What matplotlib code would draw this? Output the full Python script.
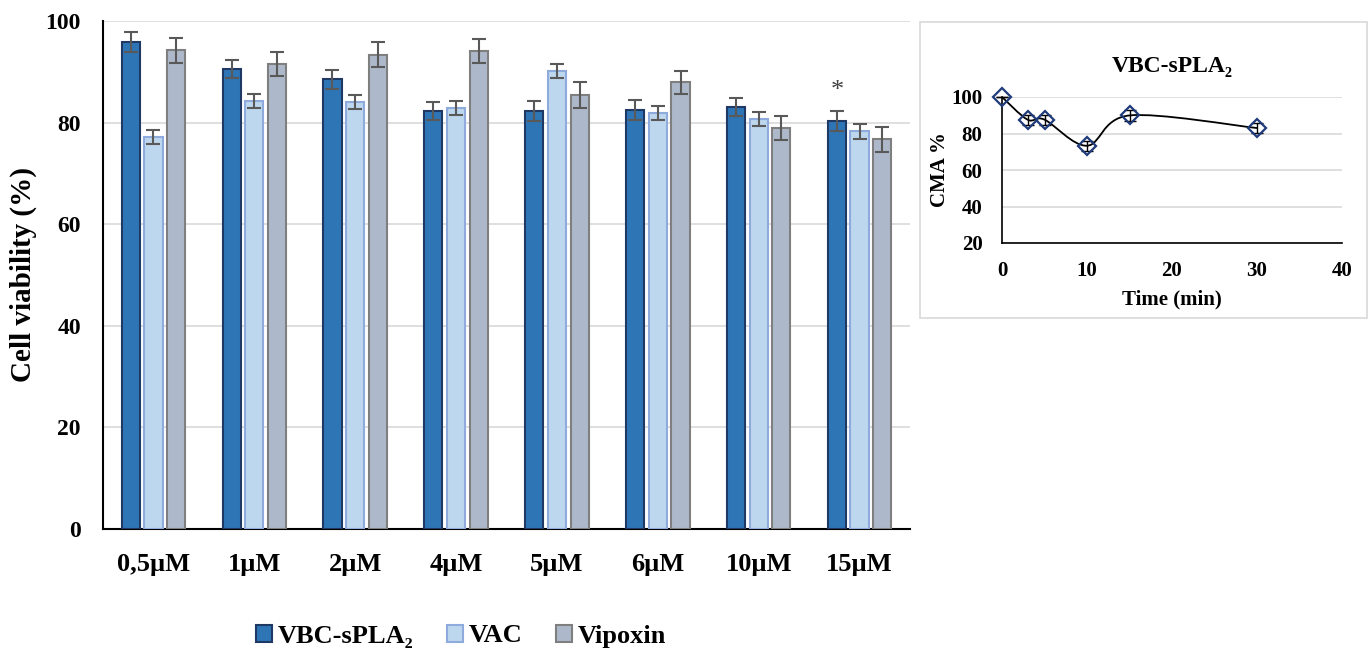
import matplotlib
matplotlib.use("Agg")
import matplotlib.pyplot as plt
import numpy as np
from matplotlib.path import Path
from matplotlib.patches import PathPatch, Rectangle

plt.rcParams["font.family"] = ["Liberation Serif", "DejaVu Serif"]
plt.rcParams["font.weight"] = "bold"

# ---- main chart data ----
concentrations = ["0,5µM", "1µM", "2µM", "4µM", "5µM", "6µM", "10µM", "15µM"]
vbc = [95.9, 90.5, 88.5, 82.3, 82.3, 82.5, 83.1, 80.3]
vbc_err = [2.0, 1.8, 1.9, 1.8, 1.9, 1.9, 1.8, 2.0]
vac = [77.2, 84.3, 84.1, 82.9, 90.2, 81.9, 80.7, 78.3]
vac_err = [1.4, 1.4, 1.4, 1.4, 1.4, 1.3, 1.3, 1.5]
vipoxin = [94.2, 91.5, 93.4, 94.1, 85.4, 87.9, 78.9, 76.7]
vipoxin_err = [2.4, 2.4, 2.4, 2.4, 2.5, 2.3, 2.4, 2.4]

# ---- inset data ----
time_min = [0, 3, 5, 10, 15, 30]
cma = [100, 87.6, 87.6, 73.3, 89.9, 83.0]
cma_err = [0, 2.8, 2.8, 2.8, 2.8, 2.8]

series = [
    ("VBC-sPLA₂", vbc, vbc_err, "#2E75B6", "#203864"),
    ("VAC", vac, vac_err, "#BDD7EE", "#8FAADC"),
    ("Vipoxin", vipoxin, vipoxin_err, "#ADB9CA", "#7F7F7F"),
]

W, H = 1369, 650
fig = plt.figure(figsize=(W / 100, H / 100), dpi=100)

# ===== main bar chart =====
ax = fig.add_axes([103 / W, (H - 529) / H, (910 - 103) / W, (529 - 21) / H])
x = np.arange(len(concentrations))
bw = 0.18
step = 0.225
for i, (name, vals, errs, fc, ec) in enumerate(series):
    ax.bar(x + (i - 1) * step, vals, width=bw, color=fc, edgecolor=ec,
           linewidth=1.5, label=name, zorder=3,
           yerr=errs, error_kw=dict(ecolor="#595959", elinewidth=1.5,
                                    capsize=5, capthick=1.5, zorder=4))

ax.text(x[-1] - step, 86.3, "*", ha="center", va="center",
        fontsize=19, fontweight="normal", color="#404040")

ax.set_xlim(-0.5, len(concentrations) - 0.5)
ax.set_ylim(0, 100)
ax.set_yticks(range(0, 101, 20))
ax.set_xticks(x)
ax.set_xticklabels(concentrations, fontsize=19, fontweight="bold")
ax.tick_params(axis="y", labelsize=17, length=0, pad=16)
ax.tick_params(axis="x", length=0, pad=17)
ax.grid(axis="y", color="#D9D9D9", linewidth=1.2, zorder=0)
ax.set_axisbelow(True)
for s in ["top", "right"]:
    ax.spines[s].set_visible(False)
ax.spines["left"].set_linewidth(1.5)
ax.spines["bottom"].set_linewidth(1.5)
ax.set_ylabel("Cell viability (%)", fontsize=21, fontweight="bold", labelpad=6)

fig.legend(loc="center", bbox_to_anchor=(461 / W, (H - 636) / H), ncol=3,
           frameon=False, fontsize=19, handlelength=0.6, handleheight=0.6,
           handletextpad=0.2, columnspacing=1.3)

# ===== inset =====
fig.patches.append(Rectangle((920 / W, (H - 318) / H), (1367 - 920) / W,
                             (318 - 22) / H, transform=fig.transFigure,
                             facecolor="white", edgecolor="#D9D9D9",
                             linewidth=1.2, zorder=-1))
ia = fig.add_axes([1002 / W, (H - 243) / H, (1342 - 1002) / W, (243 - 97) / H])
ia.set_facecolor("none")
ia.set_xlim(0, 40)
ia.set_ylim(20, 100)
ia.set_xticks(range(0, 41, 10))
ia.set_yticks(range(20, 101, 20))
ia.grid(axis="y", color="#D9D9D9", linewidth=1.2, zorder=0)
ia.set_axisbelow(True)
for s in ["top", "right"]:
    ia.spines[s].set_visible(False)
ia.spines["left"].set_linewidth(1.2)
ia.spines["bottom"].set_linewidth(1.2)
ia.tick_params(axis="y", labelsize=15, length=0, pad=14)
ia.tick_params(axis="x", labelsize=15, length=0, pad=13)
ia.set_xlabel("Time (min)", fontsize=15, fontweight="bold", labelpad=6)
ia.set_ylabel("CMA %", fontsize=15, fontweight="bold", labelpad=1)
ia.set_title("VBC-sPLA₂", fontsize=17, fontweight="bold", pad=18)

# smoothed line (Catmull-Rom style Bezier, as in spreadsheet "smoothed line")
pts = np.column_stack([time_min, cma]).astype(float)
verts = [tuple(pts[0])]
codes = [Path.MOVETO]
n = len(pts)
for k in range(n - 1):
    p0 = pts[max(k - 1, 0)]
    p1 = pts[k]
    p2 = pts[k + 1]
    p3 = pts[min(k + 2, n - 1)]
    c1 = p1 + (p2 - p0) / 6.0
    c2 = p2 - (p3 - p1) / 6.0
    verts += [tuple(c1), tuple(c2), tuple(p2)]
    codes += [Path.CURVE4] * 3
ia.add_patch(PathPatch(Path(verts, codes), facecolor="none",
                       edgecolor="black", linewidth=1.3, zorder=3,
                       clip_on=False))
ia.errorbar(time_min, cma, yerr=cma_err, fmt="none", ecolor="black",
            elinewidth=1, capsize=4, capthick=1, zorder=4, clip_on=False)
ia.plot(time_min, cma, linestyle="none", marker="D", markersize=9,
        markerfacecolor="none", markeredgecolor="#1F3B7A",
        markeredgewidth=1.6, zorder=5, clip_on=False)

fig.savefig("out.png", dpi=100)
